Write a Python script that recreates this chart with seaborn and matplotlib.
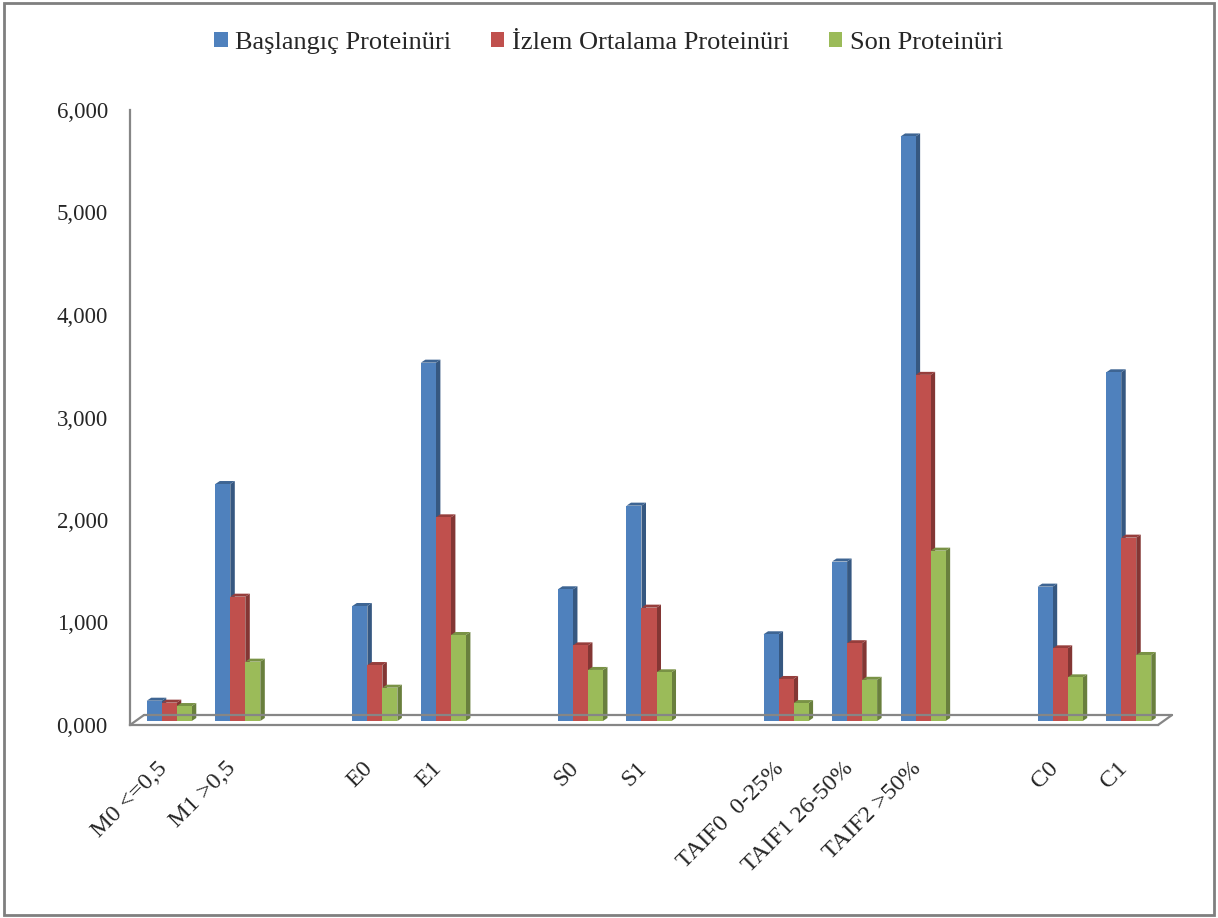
"""
Proteinuria by Oxford (MEST-C) class: 3D-look clustered bar chart.
"""
import numpy as np
import pandas as pd
import matplotlib
matplotlib.use('Agg')
import matplotlib.pyplot as plt
from matplotlib.patches import Polygon, Rectangle, Patch
from matplotlib.ticker import FixedLocator, FuncFormatter, NullFormatter
from matplotlib.transforms import offset_copy
import seaborn as sns

# --- data -------------------------------------------------------------
categories = ['M0 <=0,5', 'M1 >0,5', 'E0', 'E1', 'S0', 'S1',
              'TAIF0  0-25%', 'TAIF1 26-50%', 'TAIF2 >50%', 'C0', 'C1']
# axis slots, with empty slots between the groups as on the original
slots = ['M0 <=0,5', 'M1 >0,5', '_g1', 'E0', 'E1', '_g2', 'S0', 'S1', '_g3',
         'TAIF0  0-25%', 'TAIF1 26-50%', 'TAIF2 >50%', '_g4', 'C0', 'C1']
series = ['Başlangıç Proteinüri', 'İzlem Ortalama Proteinüri', 'Son Proteinüri']
baslangic = [0.198, 2.312, 1.122, 3.496, 1.285, 2.101, 0.846, 1.556, 5.703, 1.311, 3.402]
izlem = [0.179, 1.213, 0.546, 1.987, 0.738, 1.106, 0.410, 0.759, 3.377, 0.709, 1.789]
son = [0.146, 0.579, 0.325, 0.839, 0.498, 0.475, 0.175, 0.402, 1.662, 0.426, 0.644]
y_ticks = [0, 1, 2, 3, 4, 5, 6]

colors = ['#4F81BD', '#C0504D', '#9BBB59']
axis_gray = '#868686'

df = pd.DataFrame({
    'kategori': categories * 3,
    'seri': np.repeat(series, len(categories)),
    'deger': baslangic + izlem + son,
})

sns.set_style('white')
plt.rcParams['font.family'] = ['Liberation Serif', 'DejaVu Serif']

W, H = 1218, 918
fig = plt.figure(figsize=(W / 100, H / 100), dpi=100)

# bar axes (bars sit a little behind the front plane of the floor)
x0_px, x1_px, y0_px, ytop_px = 135, 1163, 721, 106
ax = fig.add_axes([x0_px / W, 1 - y0_px / H, (x1_px - x0_px) / W, (y0_px - ytop_px) / H])
sns.barplot(data=df, x='kategori', y='deger', hue='seri', order=slots,
            hue_order=series, palette=colors, saturation=1, width=0.657,
            errorbar=None, linewidth=0, legend=False, ax=ax)
ax.set_xlim(-0.5, len(slots) - 0.5)
ax.set_ylim(0, 6)
ax.axis('off')

# fake 3D depth for each bar: right side face and top cap
px_x = ax.bbox.width / len(slots)
px_y = ax.bbox.height / 6
dx, dy = 4.5 / px_x, 3.0 / px_y
bars = sorted([p for p in ax.patches if isinstance(p, Rectangle) and p.get_height() > 0],
              key=lambda p: p.get_x())
for p in bars:
    bx, bw, bh = p.get_x(), p.get_width(), p.get_height()
    rgb = np.array(p.get_facecolor()[:3])
    p.set_zorder(3)
    side = Polygon([(bx + bw, 0), (bx + bw + dx, dy), (bx + bw + dx, bh + dy), (bx + bw, bh)],
                   closed=True, facecolor=rgb * 0.68, edgecolor='none', zorder=2)
    top = Polygon([(bx, bh), (bx + dx, bh + dy), (bx + bw + dx, bh + dy), (bx + bw, bh)],
                  closed=True, facecolor=rgb * 0.78, edgecolor='none', zorder=2)
    ax.add_patch(side)
    ax.add_patch(top)

# axis overlay on the front plane
ax2 = fig.add_axes([(x0_px - 5) / W, 1 - (y0_px + 4) / H,
                    (x1_px - x0_px) / W, (y0_px - ytop_px) / H])
ax2.patch.set_visible(False)
ax2.set_xlim(-0.5, len(slots) - 0.5)
ax2.set_ylim(0, 6)
for s in ['top', 'right']:
    ax2.spines[s].set_visible(False)
for s in ['left', 'bottom']:
    ax2.spines[s].set_color(axis_gray)
    ax2.spines[s].set_linewidth(1.6)

ax2.yaxis.set_major_locator(FixedLocator(y_ticks))
ax2.yaxis.set_major_formatter(FuncFormatter(lambda v, _: f'{v:.3f}'.replace('.', ',')))
ax2.tick_params(axis='y', direction='out', length=5, width=1.6, color=axis_gray,
                pad=11, labelsize=16.5)

ax2.xaxis.set_major_locator(FixedLocator(np.arange(-0.5, len(slots), 1.0)))
ax2.xaxis.set_major_formatter(NullFormatter())
ax2.xaxis.set_minor_locator(FixedLocator(np.arange(len(slots))))
ax2.set_xticklabels(['' if s.startswith('_') else s for s in slots], minor=True)
ax2.tick_params(axis='x', which='major', direction='out', length=6, width=1.6, color=axis_gray)
ax2.tick_params(axis='x', which='minor', length=0, pad=29, labelsize=17.5)
for lab in ax2.get_xticklabels(minor=True):
    lab.set_rotation(45)
    lab.set_ha('right')
    lab.set_va('center')
    lab.set_rotation_mode('anchor')

# floor outline (back edge and the two short depth edges)
fdx, fdy = 14 / px_x, 10 / px_y
back = offset_copy(ax2.transData, fig=fig, x=14, y=10, units='dots')
ax2.plot([-0.5, len(slots) - 0.5], [0, 0], color=axis_gray, lw=1.6,
         transform=back, clip_on=False, zorder=1)
for xe in [-0.5, len(slots) - 0.5]:
    ax2.plot([xe, xe + fdx], [0, fdy], color=axis_gray, lw=1.6, clip_on=False, zorder=1)

# legend
handles = [Patch(facecolor=c, edgecolor='none') for c in colors]
fig.legend(handles, series, loc='center', bbox_to_anchor=(0.5, 1 - 43 / H), ncol=3,
           frameon=False, fontsize=19, handlelength=0.5, handleheight=0.5,
           handletextpad=0.3, columnspacing=1.5)

# chart border
fig.patches.append(Rectangle((0.003, 0.003), 0.994, 0.994, transform=fig.transFigure,
                             fill=False, edgecolor='#7f7f7f', linewidth=2))

fig.savefig('out.png', dpi=100)
